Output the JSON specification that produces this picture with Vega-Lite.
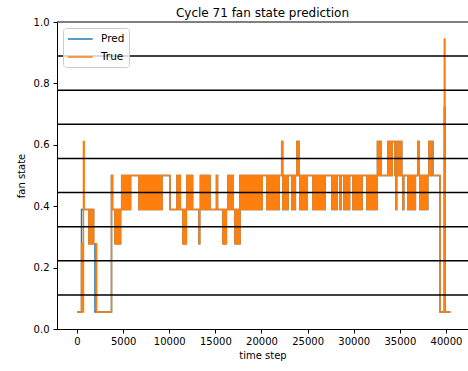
{
  "$schema": "https://vega.github.io/schema/vega-lite/v6.json",
  "width": 411,
  "height": 307,
  "autosize": "none",
  "padding": {"left": 57, "top": 22, "right": 0, "bottom": 42},
  "background": "white",
  "title": {"text": "Cycle 71 fan state prediction", "font": "DejaVu Sans", "fontSize": 12, "fontWeight": "normal", "color": "black", "anchor": "middle", "offset": -3},
  "config": {
    "view": {"stroke": null},
    "axis": {"domainColor": "black", "tickColor": "black", "labelColor": "black", "titleColor": "black", "labelFont": "DejaVu Sans", "titleFont": "DejaVu Sans", "labelFontSize": 10, "titleFontSize": 10, "titleFontWeight": "normal", "grid": false, "tickSize": 4, "domainWidth": 1, "tickWidth": 1, "labelFlush": false, "labelOverlap": false},
    "legend": {"orient": "top-left", "offset": 6, "padding": 4, "fillColor": "rgba(255,255,255,0.8)", "strokeColor": "#cccccc", "cornerRadius": 3, "labelFont": "DejaVu Sans", "labelFontSize": 10.5, "labelColor": "black", "symbolType": "M-1,0H3", "symbolSize": 156, "symbolStrokeWidth": 1.5, "labelOffset": 20, "rowPadding": 5}
  },
  "datasets": {
    "series": [
      {"t": 0, "p": 0.0556, "v": 0.0556},
      {"t": 490, "p": 0.3889, "v": 0.2778},
      {"t": 600, "p": 0.3889, "v": 0.0556},
      {"t": 700, "p": 0.3889, "v": 0.6111},
      {"t": 780, "p": 0.3889, "v": 0.3889},
      {"t": 1300, "p": 0.2778, "v": 0.2778},
      {"t": 1420, "p": 0.3889, "v": 0.3889},
      {"t": 1540, "p": 0.2778, "v": 0.2778},
      {"t": 1660, "p": 0.3889, "v": 0.3889},
      {"t": 1800, "p": 0.2778, "v": 0.2778},
      {"t": 1950, "p": 0.0556, "v": 0.2778},
      {"t": 2130, "p": 0.0556, "v": 0.0556},
      {"t": 3740, "p": 0.5, "v": 0.5},
      {"t": 3850, "p": 0.3889, "v": 0.3889},
      {"t": 4120, "p": 0.2778, "v": 0.2778},
      {"t": 4240, "p": 0.3889, "v": 0.3889},
      {"t": 4360, "p": 0.2778, "v": 0.2778},
      {"t": 4480, "p": 0.3889, "v": 0.3889},
      {"t": 4600, "p": 0.2778, "v": 0.2778},
      {"t": 4720, "p": 0.3889, "v": 0.3889},
      {"t": 4845, "p": 0.5, "v": 0.5},
      {"t": 4965, "p": 0.3889, "v": 0.3889},
      {"t": 5085, "p": 0.5, "v": 0.5},
      {"t": 5205, "p": 0.3889, "v": 0.3889},
      {"t": 5325, "p": 0.5, "v": 0.5},
      {"t": 5445, "p": 0.3889, "v": 0.3889},
      {"t": 5565, "p": 0.5, "v": 0.5},
      {"t": 5685, "p": 0.3889, "v": 0.3889},
      {"t": 5805, "p": 0.5, "v": 0.5},
      {"t": 6720, "p": 0.3889, "v": 0.3889},
      {"t": 6840, "p": 0.5, "v": 0.5},
      {"t": 6960, "p": 0.3889, "v": 0.3889},
      {"t": 7080, "p": 0.5, "v": 0.5},
      {"t": 7200, "p": 0.3889, "v": 0.3889},
      {"t": 7320, "p": 0.5, "v": 0.5},
      {"t": 7440, "p": 0.3889, "v": 0.3889},
      {"t": 7560, "p": 0.5, "v": 0.5},
      {"t": 7680, "p": 0.3889, "v": 0.3889},
      {"t": 7800, "p": 0.5, "v": 0.5},
      {"t": 7920, "p": 0.3889, "v": 0.3889},
      {"t": 8040, "p": 0.5, "v": 0.5},
      {"t": 8160, "p": 0.3889, "v": 0.3889},
      {"t": 8280, "p": 0.5, "v": 0.5},
      {"t": 8400, "p": 0.3889, "v": 0.3889},
      {"t": 8520, "p": 0.5, "v": 0.5},
      {"t": 8640, "p": 0.3889, "v": 0.3889},
      {"t": 8760, "p": 0.5, "v": 0.5},
      {"t": 8880, "p": 0.3889, "v": 0.3889},
      {"t": 9000, "p": 0.5, "v": 0.5},
      {"t": 9120, "p": 0.3889, "v": 0.3889},
      {"t": 9214, "p": 0.5, "v": 0.5},
      {"t": 10081, "p": 0.3889, "v": 0.3889},
      {"t": 10840, "p": 0.5, "v": 0.5},
      {"t": 10960, "p": 0.3889, "v": 0.3889},
      {"t": 11080, "p": 0.5, "v": 0.5},
      {"t": 11200, "p": 0.3889, "v": 0.3889},
      {"t": 11490, "p": 0.2778, "v": 0.2778},
      {"t": 11610, "p": 0.3889, "v": 0.3889},
      {"t": 11730, "p": 0.2778, "v": 0.2778},
      {"t": 11850, "p": 0.3889, "v": 0.3889},
      {"t": 11924, "p": 0.5, "v": 0.5},
      {"t": 12044, "p": 0.3889, "v": 0.3889},
      {"t": 12164, "p": 0.5, "v": 0.5},
      {"t": 12284, "p": 0.3889, "v": 0.3889},
      {"t": 12404, "p": 0.5, "v": 0.5},
      {"t": 12524, "p": 0.3889, "v": 0.3889},
      {"t": 13225, "p": 0.2778, "v": 0.2778},
      {"t": 13300, "p": 0.3889, "v": 0.3889},
      {"t": 13380, "p": 0.5, "v": 0.5},
      {"t": 13500, "p": 0.3889, "v": 0.3889},
      {"t": 13620, "p": 0.5, "v": 0.5},
      {"t": 13740, "p": 0.3889, "v": 0.3889},
      {"t": 13860, "p": 0.5, "v": 0.5},
      {"t": 13980, "p": 0.3889, "v": 0.3889},
      {"t": 14100, "p": 0.5, "v": 0.5},
      {"t": 14220, "p": 0.3889, "v": 0.3889},
      {"t": 14340, "p": 0.5, "v": 0.5},
      {"t": 14420, "p": 0.3889, "v": 0.3889},
      {"t": 15122, "p": 0.5, "v": 0.5},
      {"t": 15230, "p": 0.3889, "v": 0.3889},
      {"t": 15826, "p": 0.2778, "v": 0.2778},
      {"t": 15946, "p": 0.3889, "v": 0.3889},
      {"t": 16066, "p": 0.2778, "v": 0.2778},
      {"t": 16186, "p": 0.3889, "v": 0.3889},
      {"t": 16368, "p": 0.5, "v": 0.5},
      {"t": 16488, "p": 0.3889, "v": 0.3889},
      {"t": 16608, "p": 0.5, "v": 0.5},
      {"t": 16728, "p": 0.3889, "v": 0.3889},
      {"t": 16848, "p": 0.5, "v": 0.5},
      {"t": 16910, "p": 0.3889, "v": 0.3889},
      {"t": 17127, "p": 0.2778, "v": 0.2778},
      {"t": 17247, "p": 0.3889, "v": 0.3889},
      {"t": 17367, "p": 0.2778, "v": 0.2778},
      {"t": 17487, "p": 0.3889, "v": 0.3889},
      {"t": 17607, "p": 0.2778, "v": 0.2778},
      {"t": 17669, "p": 0.5, "v": 0.5},
      {"t": 17789, "p": 0.3889, "v": 0.3889},
      {"t": 17909, "p": 0.5, "v": 0.5},
      {"t": 18029, "p": 0.3889, "v": 0.3889},
      {"t": 18149, "p": 0.5, "v": 0.5},
      {"t": 18269, "p": 0.3889, "v": 0.3889},
      {"t": 18389, "p": 0.5, "v": 0.5},
      {"t": 18509, "p": 0.3889, "v": 0.3889},
      {"t": 18629, "p": 0.5, "v": 0.5},
      {"t": 18749, "p": 0.3889, "v": 0.3889},
      {"t": 18869, "p": 0.5, "v": 0.5},
      {"t": 18989, "p": 0.3889, "v": 0.3889},
      {"t": 19109, "p": 0.5, "v": 0.5},
      {"t": 19229, "p": 0.3889, "v": 0.3889},
      {"t": 19349, "p": 0.5, "v": 0.5},
      {"t": 19469, "p": 0.3889, "v": 0.3889},
      {"t": 19589, "p": 0.5, "v": 0.5},
      {"t": 19709, "p": 0.3889, "v": 0.3889},
      {"t": 19829, "p": 0.5, "v": 0.5},
      {"t": 19949, "p": 0.3889, "v": 0.3889},
      {"t": 20069, "p": 0.5, "v": 0.5},
      {"t": 20596, "p": 0.3889, "v": 0.3889},
      {"t": 20716, "p": 0.5, "v": 0.5},
      {"t": 20836, "p": 0.3889, "v": 0.3889},
      {"t": 20956, "p": 0.5, "v": 0.5},
      {"t": 21076, "p": 0.3889, "v": 0.3889},
      {"t": 21196, "p": 0.5, "v": 0.5},
      {"t": 21316, "p": 0.3889, "v": 0.3889},
      {"t": 21436, "p": 0.5, "v": 0.5},
      {"t": 21556, "p": 0.3889, "v": 0.3889},
      {"t": 21676, "p": 0.5, "v": 0.5},
      {"t": 21796, "p": 0.3889, "v": 0.3889},
      {"t": 21916, "p": 0.5, "v": 0.5},
      {"t": 22190, "p": 0.6111, "v": 0.6111},
      {"t": 22290, "p": 0.5, "v": 0.5},
      {"t": 22330, "p": 0.3889, "v": 0.3889},
      {"t": 22450, "p": 0.5, "v": 0.5},
      {"t": 22570, "p": 0.3889, "v": 0.3889},
      {"t": 22690, "p": 0.5, "v": 0.5},
      {"t": 22810, "p": 0.3889, "v": 0.3889},
      {"t": 22880, "p": 0.5, "v": 0.5},
      {"t": 23310, "p": 0.3889, "v": 0.3889},
      {"t": 23430, "p": 0.5, "v": 0.5},
      {"t": 23550, "p": 0.3889, "v": 0.3889},
      {"t": 23670, "p": 0.5, "v": 0.5},
      {"t": 23848, "p": 0.6111, "v": 0.6111},
      {"t": 23950, "p": 0.5, "v": 0.5},
      {"t": 24000, "p": 0.6111, "v": 0.6111},
      {"t": 24065, "p": 0.5, "v": 0.5},
      {"t": 24173, "p": 0.3889, "v": 0.3889},
      {"t": 24293, "p": 0.5, "v": 0.5},
      {"t": 24413, "p": 0.3889, "v": 0.3889},
      {"t": 24533, "p": 0.5, "v": 0.5},
      {"t": 24653, "p": 0.3889, "v": 0.3889},
      {"t": 24773, "p": 0.5, "v": 0.5},
      {"t": 24893, "p": 0.3889, "v": 0.3889},
      {"t": 24960, "p": 0.5, "v": 0.5},
      {"t": 25582, "p": 0.3889, "v": 0.3889},
      {"t": 25702, "p": 0.5, "v": 0.5},
      {"t": 25822, "p": 0.3889, "v": 0.3889},
      {"t": 25942, "p": 0.5, "v": 0.5},
      {"t": 26062, "p": 0.3889, "v": 0.3889},
      {"t": 26182, "p": 0.5, "v": 0.5},
      {"t": 26302, "p": 0.3889, "v": 0.3889},
      {"t": 26422, "p": 0.5, "v": 0.5},
      {"t": 26542, "p": 0.3889, "v": 0.3889},
      {"t": 26662, "p": 0.5, "v": 0.5},
      {"t": 26782, "p": 0.3889, "v": 0.3889},
      {"t": 26883, "p": 0.5, "v": 0.5},
      {"t": 27642, "p": 0.3889, "v": 0.3889},
      {"t": 27762, "p": 0.5, "v": 0.5},
      {"t": 27882, "p": 0.3889, "v": 0.3889},
      {"t": 28002, "p": 0.5, "v": 0.5},
      {"t": 28122, "p": 0.3889, "v": 0.3889},
      {"t": 28184, "p": 0.5, "v": 0.5},
      {"t": 28509, "p": 0.3889, "v": 0.3889},
      {"t": 28629, "p": 0.5, "v": 0.5},
      {"t": 28943, "p": 0.3889, "v": 0.3889},
      {"t": 29063, "p": 0.5, "v": 0.5},
      {"t": 29183, "p": 0.3889, "v": 0.3889},
      {"t": 29303, "p": 0.5, "v": 0.5},
      {"t": 29423, "p": 0.3889, "v": 0.3889},
      {"t": 29543, "p": 0.5, "v": 0.5},
      {"t": 29918, "p": 0.3889, "v": 0.3889},
      {"t": 30038, "p": 0.5, "v": 0.5},
      {"t": 30158, "p": 0.3889, "v": 0.3889},
      {"t": 30278, "p": 0.5, "v": 0.5},
      {"t": 30398, "p": 0.3889, "v": 0.3889},
      {"t": 30518, "p": 0.5, "v": 0.5},
      {"t": 30638, "p": 0.3889, "v": 0.3889},
      {"t": 30758, "p": 0.5, "v": 0.5},
      {"t": 30818, "p": 0.3889, "v": 0.3889},
      {"t": 30894, "p": 0.5, "v": 0.5},
      {"t": 31436, "p": 0.3889, "v": 0.3889},
      {"t": 31556, "p": 0.5, "v": 0.5},
      {"t": 31676, "p": 0.3889, "v": 0.3889},
      {"t": 31796, "p": 0.5, "v": 0.5},
      {"t": 31916, "p": 0.3889, "v": 0.3889},
      {"t": 32036, "p": 0.5, "v": 0.5},
      {"t": 32156, "p": 0.3889, "v": 0.3889},
      {"t": 32276, "p": 0.5, "v": 0.5},
      {"t": 32396, "p": 0.3889, "v": 0.3889},
      {"t": 32516, "p": 0.5, "v": 0.5},
      {"t": 32574, "p": 0.6111, "v": 0.6111},
      {"t": 32694, "p": 0.5, "v": 0.5},
      {"t": 32814, "p": 0.6111, "v": 0.6111},
      {"t": 32954, "p": 0.5, "v": 0.5},
      {"t": 33712, "p": 0.6111, "v": 0.6111},
      {"t": 33832, "p": 0.5, "v": 0.5},
      {"t": 33952, "p": 0.6111, "v": 0.6111},
      {"t": 34072, "p": 0.5, "v": 0.5},
      {"t": 34160, "p": 0.6111, "v": 0.6111},
      {"t": 34471, "p": 0.5, "v": 0.5},
      {"t": 34580, "p": 0.3889, "v": 0.3889},
      {"t": 34650, "p": 0.5, "v": 0.5},
      {"t": 34688, "p": 0.6111, "v": 0.6111},
      {"t": 34808, "p": 0.5, "v": 0.5},
      {"t": 34928, "p": 0.6111, "v": 0.6111},
      {"t": 35048, "p": 0.5, "v": 0.5},
      {"t": 35122, "p": 0.6111, "v": 0.6111},
      {"t": 35200, "p": 0.5, "v": 0.5},
      {"t": 35338, "p": 0.3889, "v": 0.3889},
      {"t": 35420, "p": 0.5, "v": 0.5},
      {"t": 35880, "p": 0.3889, "v": 0.3889},
      {"t": 36000, "p": 0.5, "v": 0.5},
      {"t": 36120, "p": 0.3889, "v": 0.3889},
      {"t": 36240, "p": 0.5, "v": 0.5},
      {"t": 36360, "p": 0.3889, "v": 0.3889},
      {"t": 36480, "p": 0.5, "v": 0.5},
      {"t": 36600, "p": 0.3889, "v": 0.3889},
      {"t": 36680, "p": 0.5, "v": 0.5},
      {"t": 36964, "p": 0.6111, "v": 0.6111},
      {"t": 37100, "p": 0.5, "v": 0.5},
      {"t": 37181, "p": 0.3889, "v": 0.3889},
      {"t": 37301, "p": 0.5, "v": 0.5},
      {"t": 37421, "p": 0.3889, "v": 0.3889},
      {"t": 37541, "p": 0.5, "v": 0.5},
      {"t": 37661, "p": 0.3889, "v": 0.3889},
      {"t": 37781, "p": 0.5, "v": 0.5},
      {"t": 37901, "p": 0.3889, "v": 0.3889},
      {"t": 38021, "p": 0.5, "v": 0.5},
      {"t": 38157, "p": 0.6111, "v": 0.6111},
      {"t": 38277, "p": 0.5, "v": 0.5},
      {"t": 38397, "p": 0.6111, "v": 0.6111},
      {"t": 38590, "p": 0.5, "v": 0.5},
      {"t": 39349, "p": 0.0556, "v": 0.0556},
      {"t": 39815, "p": 0.7222, "v": 0.9444},
      {"t": 39891, "p": 0.0556, "v": 0.0556},
      {"t": 40487, "p": 0.0556, "v": 0.0556}
    ],
    "levels": [
      {"y": 0.1111}, {"y": 0.2222}, {"y": 0.3333}, {"y": 0.4444},
      {"y": 0.5556}, {"y": 0.6667}, {"y": 0.7778}, {"y": 0.8889}
    ]
  },
  "layer": [
    {
      "data": {"name": "series"},
      "mark": {"type": "line", "interpolate": "step-after", "strokeWidth": 1.5},
      "encoding": {
        "x": {"field": "t", "type": "quantitative", "scale": {"domain": [-2168, 42385], "nice": false, "zero": false}, "axis": {"title": "time step", "values": [0, 5000, 10000, 15000, 20000, 25000, 30000, 35000, 40000], "format": "d", "labelPadding": 3, "titlePadding": 4}},
        "y": {"field": "p", "type": "quantitative", "scale": {"domain": [0, 1], "nice": false, "zero": false}, "axis": {"title": "fan state", "values": [0, 0.2, 0.4, 0.6, 0.8, 1.0], "format": ".1f", "labelPadding": 4, "titlePadding": 7}},
        "color": {"datum": "Pred", "type": "nominal", "scale": {"domain": ["Pred", "True"], "range": ["#1f77b4", "#ff7f0e"]}, "legend": {"title": null}}
      }
    },
    {
      "data": {"name": "series"},
      "mark": {"type": "line", "interpolate": "step-after", "strokeWidth": 1.5},
      "encoding": {
        "x": {"field": "t", "type": "quantitative"},
        "y": {"field": "v", "type": "quantitative"},
        "color": {"datum": "True", "type": "nominal"}
      }
    },
    {
      "data": {"name": "levels"},
      "mark": {"type": "rule", "color": "black", "strokeWidth": 1.5},
      "encoding": {"y": {"field": "y", "type": "quantitative"}}
    },
    {
      "data": {"values": [{}]},
      "mark": {"type": "rule", "color": "black", "strokeWidth": 1},
      "encoding": {"y": {"datum": 1}}
    }
  ]
}
